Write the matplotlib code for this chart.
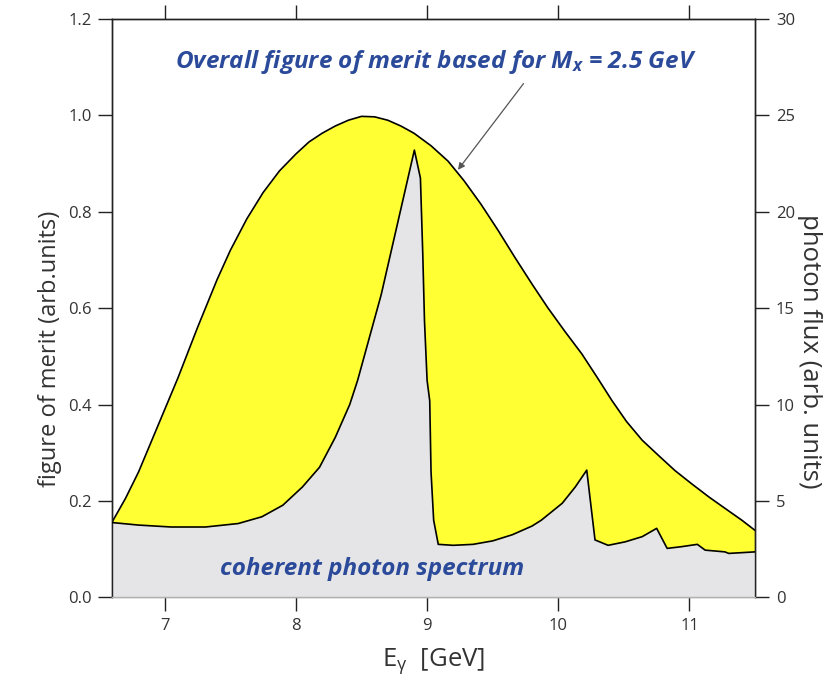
import matplotlib
matplotlib.use("Agg")
import matplotlib.pyplot as plt

plt.rcParams['font.family'] = ['Open Sans', 'DejaVu Sans']
plt.rcParams['mathtext.fontset'] = 'custom'
plt.rcParams['mathtext.rm'] = 'Open Sans'
plt.rcParams['mathtext.it'] = 'Open Sans:italic:bold'
plt.rcParams['mathtext.bf'] = 'Open Sans:bold'

# Overall figure of merit (left axis, arb. units)
fom_energy = [6.60, 6.70, 6.80, 6.90, 7.00, 7.10, 7.25, 7.40, 7.50, 7.625,
              7.75, 7.875, 8.00, 8.10, 8.20, 8.30, 8.40, 8.50, 8.60, 8.70,
              8.80, 8.90, 9.03, 9.16, 9.28, 9.41, 9.54, 9.67, 9.80, 9.92,
              10.05, 10.18, 10.30, 10.41, 10.52, 10.64, 10.77, 10.89,
              11.02, 11.15, 11.28, 11.40, 11.50]
fom_value = [0.157, 0.205, 0.26, 0.325, 0.39, 0.455, 0.56, 0.66, 0.72, 0.785,
             0.84, 0.885, 0.92, 0.945, 0.963, 0.978, 0.99, 0.998, 0.997, 0.99,
             0.978, 0.963, 0.937, 0.905, 0.865, 0.816, 0.762, 0.705, 0.65,
             0.601, 0.552, 0.505, 0.455, 0.408, 0.365, 0.326, 0.293, 0.263,
             0.235, 0.208, 0.183, 0.160, 0.139]

# Coherent photon spectrum (right axis, photon flux in arb. units)
flux_energy = [6.60, 6.80, 7.05, 7.31, 7.56, 7.74, 7.90, 8.05, 8.18, 8.30,
               8.41, 8.47, 8.65, 8.903, 8.949, 8.967, 8.98, 9.00, 9.02,
               9.03, 9.05, 9.085, 9.20, 9.35, 9.50, 9.65, 9.80, 9.87,
               10.03, 10.13, 10.217, 10.28, 10.38, 10.51, 10.64, 10.75,
               10.83, 10.94, 11.06, 11.12, 11.27, 11.30, 11.50]
flux_value = [3.88, 3.75, 3.65, 3.65, 3.83, 4.18, 4.78, 5.73, 6.75, 8.30,
              10.0, 11.25, 15.7, 23.2, 21.75, 17.8, 14.35, 11.25, 10.2,
              6.5, 4.0, 2.75, 2.70, 2.75, 2.93, 3.25, 3.70, 4.00,
              4.88, 5.73, 6.60, 2.98, 2.70, 2.88, 3.15, 3.58,
              2.54, 2.63, 2.75, 2.45, 2.36, 2.28, 2.36]

x_ticks = [7, 8, 9, 10, 11]
left_ticks = [0.0, 0.2, 0.4, 0.6, 0.8, 1.0, 1.2]
right_ticks = [0, 5, 10, 15, 20, 25, 30]

text_gray = '#333333'
blue = '#2b4a9a'

fig = plt.figure(figsize=(8.33, 6.81), dpi=100)
ax = fig.add_axes([0.1348, 0.1228, 0.7716, 0.8493])
ax2 = ax.twinx()

ax.fill_between(fom_energy, 0, fom_value, color='#ffff33', lw=0, zorder=1)
ax.plot(fom_energy, fom_value, color='black', lw=1.2, zorder=3)

ax2.fill_between(flux_energy, 0, flux_value, color='#e5e5e7', lw=0, zorder=1)
ax2.plot(flux_energy, flux_value, color='black', lw=1.2, zorder=3)

ax.set_xlim(6.6, 11.5)
ax.set_ylim(0, 1.2)
ax2.set_ylim(0, 30)

ax.set_xticks(x_ticks)
ax.set_xticklabels([str(t) for t in x_ticks])
ax.set_yticks(left_ticks)
ax.set_yticklabels([f'{t:.1f}' for t in left_ticks])
ax2.set_yticks(right_ticks)
ax2.set_yticklabels([str(t) for t in right_ticks])

for a in (ax, ax2):
    for s in a.spines.values():
        s.set_color('#222222')
        s.set_linewidth(1.0)
    a.spines['bottom'].set_color('#b0b0b0')
    a.tick_params(direction='out', length=10, width=1.0, colors='#222222',
                  labelcolor=text_gray, labelsize=12, pad=5)

ax.tick_params(axis='x', top=True, labeltop=False)
ax.tick_params(axis='y', right=False)
ax2.tick_params(axis='y', left=False)

ax.set_ylabel('figure of merit (arb.units)', fontsize=17, color=text_gray,
              va='center')
ax.yaxis.set_label_coords(-0.097, 0.43)
ax2.set_ylabel('photon flux (arb. units)', fontsize=18.5, color=text_gray,
               rotation=270, va='center')
ax2.yaxis.set_label_coords(1.085, 0.425)
ax.set_xlabel(r'E$_{\mathrm{\gamma}}$  [GeV]', fontsize=18.5, color=text_gray,
              labelpad=9)

# annotations go on the top axes so the fills do not hide them
ax2.text(9.069, 1.111, r'Overall figure of merit based for $M_{x}$ = 2.5 GeV',
         transform=ax.transData, ha='center', va='center', fontsize=17.5,
         fontweight='bold', fontstyle='italic', color=blue, zorder=5)
ax2.text(8.579, 0.0587, 'coherent photon spectrum', transform=ax.transData,
         ha='center', va='center', fontsize=17.5, fontweight='bold',
         fontstyle='italic', color=blue, zorder=5)

ax2.annotate('', xy=(9.235, 0.887), xytext=(9.735, 1.066),
             xycoords=ax.transData, textcoords=ax.transData,
             arrowprops=dict(arrowstyle='-|>', color='#555555', lw=0.9,
                             mutation_scale=10, shrinkA=0, shrinkB=0),
             zorder=5)

fig.savefig('out.png', dpi=100)
